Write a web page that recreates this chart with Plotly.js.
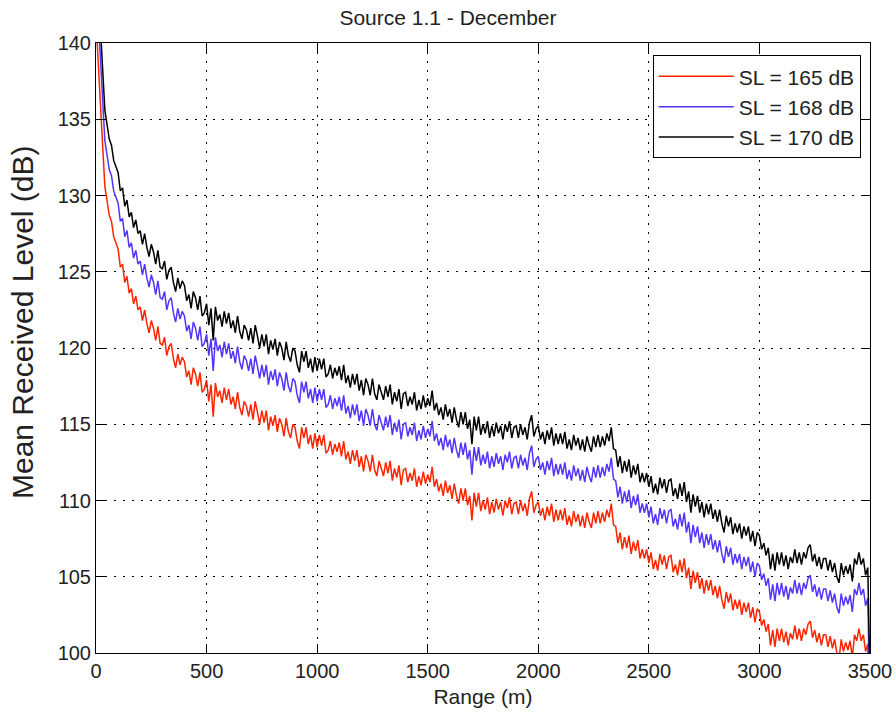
<!DOCTYPE html>
<html>
<head>
<meta charset="utf-8">
<script src="https://cdn.plot.ly/plotly-3.0.1.min.js"></script>
<style>html,body{margin:0;padding:0;background:#fff;}#chart{width:896px;height:720px;}</style>
</head>
<body>
<div id="chart"></div>
<script>
// Range grid: first sample (m) and spacing (m) of the received-level samples
const rangeStartM = 0;
const rangeStepM = 10;

// Source levels (dB) shown in the legend
const sourceLevels = [165, 168, 170];
const seriesNames = ["SL = 165 dB", "SL = 168 dB", "SL = 170 dB"];

// Mean received level (dB) read from the SL = 165 dB curve, one value every 10 m (0 ... 3500 m)
const rlSL165 = [
  141.5, 139.0, 136.4, 133.3, 130.6, 129.7, 128.7, 128.3, 127.3, 126.9,
  126.5, 125.3, 125.5, 124.3, 124.7, 123.6, 123.9, 122.9, 123.4, 122.5,
  122.7, 121.8, 122.5, 121.6, 121.0, 121.8, 121.3, 120.5, 121.4, 120.3,
  120.2, 120.7, 119.5, 120.1, 120.3, 119.3, 118.7, 119.6, 118.9, 119.4,
  119.1, 118.1, 118.5, 117.6, 118.7, 118.3, 117.5, 118.4, 117.1, 117.3,
  117.9, 116.5, 117.6, 115.5, 117.7, 116.8, 117.2, 116.4, 117.4, 116.6,
  117.3, 116.3, 116.8, 116.0, 117.1, 116.1, 115.6, 116.5, 116.2, 115.5,
  116.3, 115.3, 116.5, 115.8, 115.0, 115.9, 115.1, 115.9, 114.6, 115.5,
  114.9, 115.6, 114.5, 115.4, 115.0, 114.2, 115.4, 114.5, 114.1, 115.0,
  114.8, 113.9, 113.4, 114.8, 114.1, 114.8, 113.7, 114.3, 113.4, 114.4,
  113.5, 114.3, 113.6, 114.3, 113.1, 113.3, 113.9, 113.0, 113.7, 113.2,
  113.8, 112.9, 113.9, 112.7, 113.2, 112.4, 113.3, 112.6, 113.3, 112.2,
  112.9, 111.9, 113.0, 112.6, 111.9, 113.0, 112.0, 111.6, 112.6, 112.1,
  111.6, 112.5, 111.8, 112.6, 111.3, 112.1, 111.5, 112.3, 111.0, 112.0,
  112.1, 111.2, 111.8, 111.3, 112.1, 110.9, 111.6, 111.0, 111.9, 111.1,
  111.7, 111.2, 112.2, 110.9, 111.4, 110.6, 111.1, 110.3, 111.3, 110.5,
  111.0, 110.1, 111.1, 110.3, 109.8, 110.8, 110.0, 110.8, 109.7, 110.3,
  108.7, 110.5, 109.6, 110.5, 109.3, 110.0, 109.4, 110.2, 109.1, 109.9,
  109.2, 110.1, 109.4, 109.9, 109.0, 110.0, 109.5, 110.2, 109.1, 109.8,
  109.9, 109.1, 110.0, 109.3, 109.8, 109.0, 110.1, 110.6, 109.2, 109.7,
  109.9, 109.0, 109.5, 108.7, 109.6, 109.0, 109.8, 108.6, 109.4, 108.7,
  109.4, 108.7, 109.5, 108.4, 109.0, 108.3, 109.3, 108.6, 109.1, 108.3,
  109.0, 108.2, 109.2, 108.6, 108.2, 109.2, 108.5, 109.3, 108.5, 109.2,
  108.6, 109.4, 108.9, 109.8, 108.4, 108.3, 107.2, 107.9, 106.8, 107.6,
  106.9, 107.7, 106.5, 107.3, 106.7, 107.4, 106.2, 106.8, 106.2, 106.8,
  105.9, 106.6, 105.5, 106.1, 105.4, 106.5, 105.8, 106.4, 105.5, 106.3,
  106.4, 105.3, 105.8, 105.1, 106.1, 105.3, 106.2, 104.9, 105.6, 104.2,
  105.4, 104.6, 105.3, 104.2, 104.9, 103.9, 104.8, 104.1, 104.8, 103.8,
  104.4, 103.6, 104.4, 103.5, 102.9, 104.0, 103.3, 103.9, 102.8, 103.5,
  102.9, 103.5, 102.5, 103.3, 102.7, 103.3, 102.3, 103.0, 102.0, 102.9,
  102.7, 101.8, 102.2, 101.4, 101.9, 100.5, 101.5, 100.4, 101.6, 100.8,
  101.6, 100.7, 101.4, 100.5, 101.3, 100.9, 101.8, 100.9, 101.6, 100.8,
  101.6, 101.2, 101.9, 102.1, 101.0, 101.5, 100.7, 101.3, 100.5, 101.2,
  101.2, 100.4, 101.1, 100.3, 100.9, 100.0, 99.6, 100.9, 100.1, 100.7,
  100.2, 100.8, 99.7, 101.2, 100.8, 101.6, 100.8, 101.2, 100.1, 100.6,
  93.0
];

// Axis ticks
const xTicks = [0, 500, 1000, 1500, 2000, 2500, 3000, 3500];
const yTicks = [100, 105, 110, 115, 120, 125, 130, 135, 140];

const lineColors = ["#ff2400", "#5533ff", "#000000"];

const baseSL = sourceLevels[0];
const traces = sourceLevels.map((sl, i) => ({
  type: "scatter",
  mode: "lines",
  name: seriesNames[i],
  x0: rangeStartM,
  dx: rangeStepM,
  y: rlSL165.map(v => v + (sl - baseSL)),
  line: { color: lineColors[i], width: 1.5 }
}));

const fontFam = "Liberation Sans, Arial, sans-serif";
const axisCommon = {
  showline: true,
  linecolor: "#000",
  linewidth: 1,
  mirror: "ticks",
  ticks: "inside",
  ticklen: 9,
  tickcolor: "#000",
  tickwidth: 1,
  showgrid: true,
  gridcolor: "#000",
  gridwidth: 1,
  griddash: "2px,7px",
  zeroline: false,
  tickfont: { family: fontFam, size: 20, color: "#222" }
};

const layout = {
  width: 896,
  height: 720,
  paper_bgcolor: "#fff",
  plot_bgcolor: "#fff",
  margin: { l: 96, r: 26, t: 43, b: 67 },
  title: {
    text: "Source 1.1 - December",
    font: { family: fontFam, size: 21, color: "#222" },
    x: 0.5,
    xanchor: "center",
    y: 0.975,
    yanchor: "middle"
  },
  xaxis: Object.assign({}, axisCommon, {
    range: [0, 3500],
    tickvals: xTicks,
    ticktext: xTicks.map(String),
    title: { text: "Range (m)", font: { family: fontFam, size: 21, color: "#222" }, standoff: 8 }
  }),
  yaxis: Object.assign({}, axisCommon, {
    range: [100, 140],
    tickvals: yTicks,
    ticktext: yTicks.map(String)
  }),
  annotations: [{
    text: "Mean Received Level (dB)",
    xref: "paper", yref: "paper",
    x: -0.094, y: 0.543,
    xanchor: "center", yanchor: "middle",
    textangle: -90,
    showarrow: false,
    font: { family: fontFam, size: 30, color: "#222" }
  }],
  showlegend: true,
  legend: {
    x: 0.988,
    xanchor: "right",
    y: 0.98,
    yanchor: "top",
    bgcolor: "#fff",
    bordercolor: "#000",
    borderwidth: 1,
    itemwidth: 75,
    font: { family: fontFam, size: 21, color: "#222" },
    traceorder: "normal"
  }
};

Plotly.newPlot("chart", traces, layout, { displayModeBar: false, staticPlot: true });
</script>
</body>
</html>
